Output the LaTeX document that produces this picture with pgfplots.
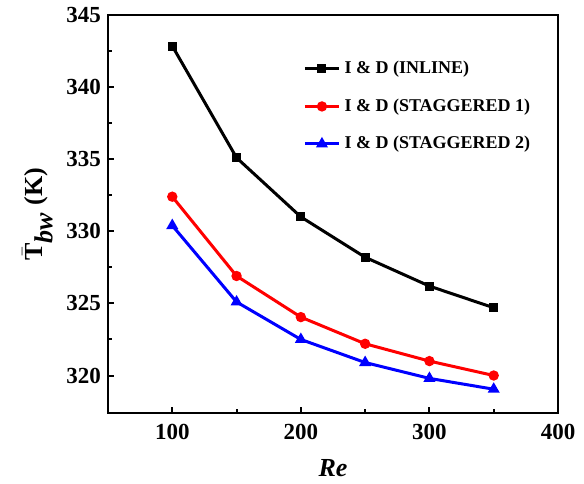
\documentclass[border=0pt]{standalone}
\usepackage{fontspec}
\setmainfont{Liberation Serif}
\usepackage{pgfplots}
\pgfplotsset{compat=1.18}

\begin{document}
\begin{tikzpicture}
\begin{axis}[
    scale only axis,
    width=225pt,
    height=199pt,
    xmin=50, xmax=400,
    ymin=317.4, ymax=345,
    xtick={100,200,300,400},
    minor xtick={150,250,350},
    ytick={320,325,330,335,340,345},
    minor ytick={322.5,327.5,332.5,337.5,342.5},
    tick pos=left,
    tick align=inside,
    major tick length=3pt,
    minor tick length=2pt,
    every tick/.style={line width=1pt, black},
    axis line style={line width=1pt},
    /pgf/number format/assume math mode=true,
    ticklabel style={font=\fontsize{11.5}{13}\selectfont\bfseries},
    xticklabel style={yshift=-2pt},
    xlabel={\textbf{\textit{Re}}},
    xlabel style={font=\fontsize{13}{15}\selectfont, yshift=-3pt},
    ylabel={$\bar{\mathbf{T}}_{\textbf{\textit{bw}}}$ \textbf{(K)}},
    ylabel style={font=\fontsize{13}{15}\selectfont},
    legend cell align=left,
    legend style={draw=none, fill=none, at={(0.42,0.905)}, anchor=north west,
        font=\fontsize{9}{11}\selectfont\bfseries, row sep=7pt},
    every axis plot/.append style={line width=1.5pt},
]

\addplot[black, mark=square*, mark size=1.5pt] coordinates {
(100,342.85) (150,335.1) (200,331.0) (250,328.2) (300,326.2) (350,324.7)
};
\addlegendentry{I \& D (INLINE)}

\addplot[red, mark=*, mark size=1.8pt] coordinates {
(100,332.4) (150,326.9) (200,324.05) (250,322.2) (300,321.0) (350,320.0)
};
\addlegendentry{I \& D (STAGGERED 1)}

\addplot[blue, mark=triangle*, mark size=2pt] coordinates {
(100,330.4) (150,325.1) (200,322.5) (250,320.9) (300,319.8) (350,319.05)
};
\addlegendentry{I \& D (STAGGERED 2)}

\end{axis}
\path ([shift={(-54pt,-34pt)}]current axis.south west) rectangle ([shift={(13pt,7.5pt)}]current axis.north east);
\end{tikzpicture}
\end{document}
